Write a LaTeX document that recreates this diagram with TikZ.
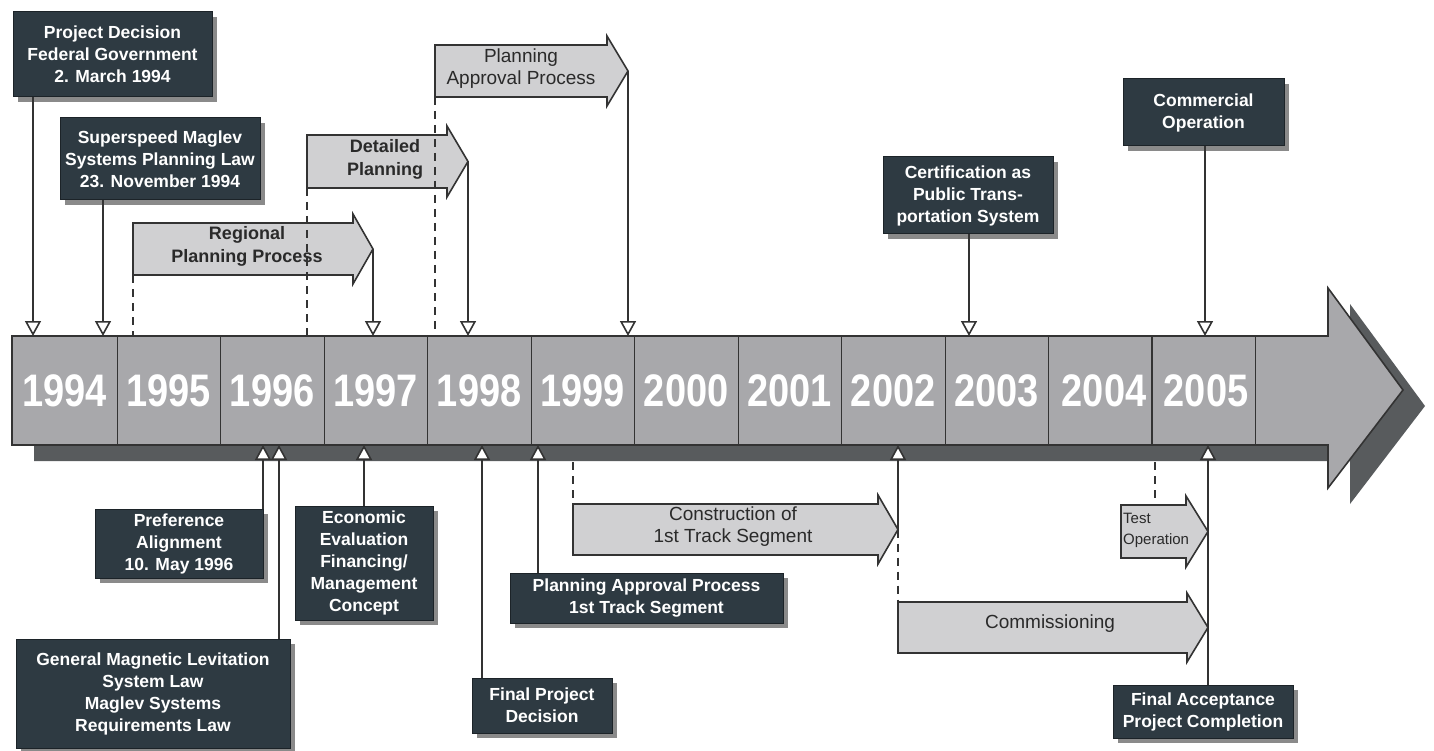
\documentclass[tikz,border=0pt]{standalone}
\usepackage{fontspec}
\setmainfont{Liberation Sans}
\usetikzlibrary{arrows.meta,shadows}
\definecolor{boxc}{HTML}{2E3A42}
\definecolor{boxedge}{HTML}{1C2328}
\definecolor{shadc}{HTML}{8A8A8A}
\definecolor{barc}{HTML}{A8A8AB}
\definecolor{barshad}{HTML}{585B5D}
\definecolor{procc}{HTML}{D0D0D2}
\definecolor{linec}{HTML}{333333}
\definecolor{textc}{HTML}{2A2A2A}
\tikzset{
 darkbox/.style={fill=boxc, draw=boxedge, line width=1pt, text=white, align=center, inner sep=0pt,
   font=\fontsize{17.5}{22}\selectfont\bfseries,
   drop shadow={shadow xshift=5pt, shadow yshift=-5pt, fill=shadc, opacity=1}},
 procshape/.style={fill=procc, draw=linec, line width=1.6pt, line join=miter},
 proctext/.style={text=textc, align=center, inner sep=0pt, font=\fontsize{19}{22}\selectfont},
 conn/.style={draw=linec, line width=1.6pt, -{Triangle[width=16pt,length=15pt,fill=white]}},
 guide/.style={draw=linec, line width=1.6pt, dash pattern=on 8pt off 6pt},
 yearlab/.style={text=white, font=\fontsize{38}{38}\selectfont\bfseries, inner sep=0pt, yscale=1.2, transform shape},
 thindiv/.style={draw=linec, line width=0.9pt},
 thickdiv/.style={draw=linec, line width=1.8pt}
}
\newcommand\mkproc[6]{%
  \draw[procshape] ({#2},{#5}) -- ({#3},{#5}) -- ({#3},{#5-9}) -- ({#4},{(#5+#6)/2}) -- ({#3},{#6+9}) -- ({#3},{#6}) -- ({#2},{#6}) -- cycle;
  \coordinate (#1-tl) at ({#2},{#5});
  \coordinate (#1-bl) at ({#2},{#6});
  \coordinate (#1-tip) at ({#4},{(#5+#6)/2});
}
\begin{document}
\begin{tikzpicture}[x=1pt,y=-1pt]
\useasboundingbox (0,0) rectangle (1434,751);
% main timeline arrow with shadow
\fill[barshad, shift={(22,16)}] (12,336) -- (1328,336) -- (1328,288) -- (1403,390) -- (1328,488) -- (1328,445) -- (12,445) -- cycle;
\draw[fill=barc, draw=linec, line width=1.6pt] (12,336) -- (1328,336) -- (1328,288) -- (1403,390) -- (1328,488) -- (1328,445) -- (12,445) -- cycle;
% dividers
\foreach \x in {117,220.5,324,427.5,531,634.5,738,841.5,945,1048.5} \draw[thindiv] (\x,336) -- (\x,445);
\draw[thickdiv] (1152,336) -- (1152,445);
\draw[thickdiv] (1255.5,336) -- (1255.5,445);
% years
\node[yearlab] (y1994) at (64.5,391) {1994};
\node[yearlab] (y1995) at (168.75,391) {1995};
\node[yearlab] (y1996) at (272.25,391) {1996};
\node[yearlab] (y1997) at (375.75,391) {1997};
\node[yearlab] (y1998) at (479.25,391) {1998};
\node[yearlab] (y1999) at (582.75,391) {1999};
\node[yearlab] (y2000) at (686.25,391) {2000};
\node[yearlab] (y2001) at (789.75,391) {2001};
\node[yearlab] (y2002) at (893.25,391) {2002};
\node[yearlab] (y2003) at (996.75,391) {2003};
\node[yearlab] (y2004) at (1104,391) {2004};
\node[yearlab] (y2005) at (1206,391) {2005};
% connection points on bar
\coordinate (T1) at (33,336);
\coordinate (T2) at (103,336);
\coordinate (T6) at (969,336);
\coordinate (T7) at (1205,336);
\coordinate (Ttop) at (0,336);
\coordinate (B1) at (263,445);
\coordinate (B2) at (279,445);
\coordinate (B3) at (364,445);
\coordinate (B4) at (482,445);
\coordinate (B5) at (538,445);
\coordinate (B6) at (898,445);
\coordinate (B7) at (1208,445);
\coordinate (S1) at (0,462);
% process arrows (top)
\mkproc{rp}{133}{353}{373}{223}{275}
\node[proctext, font=\fontsize{18}{23}\selectfont\bfseries] (rpt) at (247,246) {Regional\\Planning Process};
\mkproc{dp}{307}{447}{468}{135}{188}
\node[proctext, font=\fontsize{18}{23}\selectfont\bfseries] (dpt) at (385,159) {Detailed\\Planning};
\mkproc{pap}{435}{607}{628}{45}{97}
\node[proctext] (papt) at (521,69) {Planning\\Approval Process};
% process arrows (bottom)
\mkproc{con}{573}{878}{898}{504}{555}
\node[proctext] (cont) at (733,527) {Construction of\\1st Track Segment};
\mkproc{com}{898}{1187}{1208}{602}{653}
\node[proctext] (comt) at (1050,624) {Commissioning};
\mkproc{tst}{1121}{1186}{1208}{505}{558}
\node[proctext, align=left, anchor=west, font=\fontsize{15}{21}\selectfont] (tstt) at (1123,530) {Test\\Operation};
% dark boxes
\node[darkbox, minimum width=199pt, minimum height=85pt] (pd) at (112.5,54.5) {Project Decision\\Federal Government\\2. March 1994};
\node[darkbox, minimum width=200pt, minimum height=82pt] (ss) at (160,159) {Superspeed Maglev\\Systems Planning Law\\23. November 1994};
\node[darkbox, minimum width=170pt, minimum height=77pt] (cert) at (968,195.5) {Certification as\\Public Trans-\\portation System};
\node[darkbox, minimum width=161pt, minimum height=67pt] (comm) at (1203.5,112.5) {Commercial\\Operation};
\node[darkbox, minimum width=168pt, minimum height=69pt] (pref) at (179,543.5) {Preference\\Alignment\\10. May 1996};
\node[darkbox, minimum width=274pt, minimum height=109pt] (gml) at (153,693.5) {General Magnetic Levitation\\System Law\\Maglev Systems\\Requirements Law};
\node[darkbox, minimum width=138pt, minimum height=114pt] (econ) at (364,563) {Economic\\Evaluation\\Financing/\\Management\\Concept};
\node[darkbox, minimum width=140pt, minimum height=55pt] (fpd) at (542,705.5) {Final Project\\Decision};
\node[darkbox, minimum width=273pt, minimum height=50pt] (pa1) at (646.5,598) {Planning Approval Process\\1st Track Segment};
\node[darkbox, minimum width=180pt, minimum height=53pt] (fa) at (1203,711.5) {Final Acceptance\\Project Completion};
% top connectors
\draw[conn] (T1 |- pd.south) -- (T1);
\draw[conn] (T2 |- ss.south) -- (T2);
\draw[conn] (rp-tip) -- (rp-tip |- Ttop);
\draw[conn] (dp-tip) -- (dp-tip |- Ttop);
\draw[conn] (pap-tip) -- (pap-tip |- Ttop);
\draw[conn] (T6 |- cert.south) -- (T6);
\draw[conn] (T7 |- comm.south) -- (T7);
\draw[guide] (rp-bl) -- (rp-bl |- Ttop);
\draw[guide] (dp-bl) -- (dp-bl |- Ttop);
\draw[guide] (pap-bl) -- (pap-bl |- Ttop);
% bottom connectors
\draw[conn] (B1 |- pref.north) -- (B1);
\draw[conn] (B2 |- gml.north) -- (B2);
\draw[conn] (B3 |- econ.north) -- (B3);
\draw[conn] (B4 |- fpd.north) -- (B4);
\draw[conn] (B5 |- pa1.north) -- (B5);
\draw[conn] (con-tip) -- (B6);
\draw[conn] (B7 |- fa.north) -- (B7);
\draw[guide] (con-tl |- S1) -- (con-tl);
\draw[guide] (con-tip) -- (com-tl);
\coordinate (dT) at (1155,462);
\draw[guide] (dT) -- (dT |- tst-tl);
\end{tikzpicture}
\end{document}
